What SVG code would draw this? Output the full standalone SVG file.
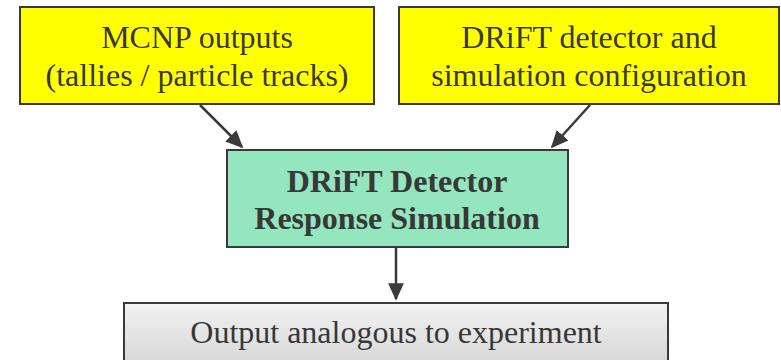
<svg xmlns="http://www.w3.org/2000/svg" width="781" height="360" viewBox="0 0 781 360">
<defs>
<style>
.box{stroke:#3a3a3a;stroke-width:2}
.t{font-family:"Liberation Serif","Times New Roman",serif;font-size:32px;fill:#383838;text-anchor:middle}
.b{font-weight:bold}
.c{stroke:#3a3a3a;stroke-width:2.5;fill:none}
</style>
<linearGradient id="g" x1="0" y1="0" x2="0" y2="1">
<stop offset="0" stop-color="#f2f2f2"/>
<stop offset="1" stop-color="#cfcfcf"/>
</linearGradient>
<marker id="a" viewBox="0 0 10 10" refX="9" refY="5" markerWidth="7" markerHeight="7" orient="auto">
<path d="M0,0.5 L10,5 L0,9.5 z" fill="#3a3a3a"/>
</marker>
</defs>
<g id="connectors">
<line class="c" x1="200" y1="105" x2="242" y2="147" marker-end="url(#a)"/>
<line class="c" x1="590" y1="105" x2="552" y2="147" marker-end="url(#a)"/>
<line class="c" x1="396" y1="248" x2="396" y2="299" marker-end="url(#a)"/>
</g>
<g id="mcnp">
<rect class="box" x="20" y="7" width="354" height="97" fill="#ffff00"/>
<text class="t" x="197" y="48">MCNP outputs</text>
<text class="t" x="197" y="86">(tallies / particle tracks)</text>
</g>
<g id="config">
<rect class="box" x="399" y="7" width="380" height="97" fill="#ffff00"/>
<text class="t" x="589" y="48">DRiFT detector and</text>
<text class="t" x="589" y="86">simulation configuration</text>
</g>
<g id="sim">
<rect class="box" x="227" y="150" width="341" height="97" fill="#93e6bd"/>
<text class="t b" x="397" y="192">DRiFT Detector</text>
<text class="t b" x="397" y="229">Response Simulation</text>
</g>
<g id="output">
<rect class="box" x="124" y="303" width="544" height="80" fill="url(#g)"/>
<text class="t" x="396" y="343">Output analogous to experiment</text>
</g>
</svg>
